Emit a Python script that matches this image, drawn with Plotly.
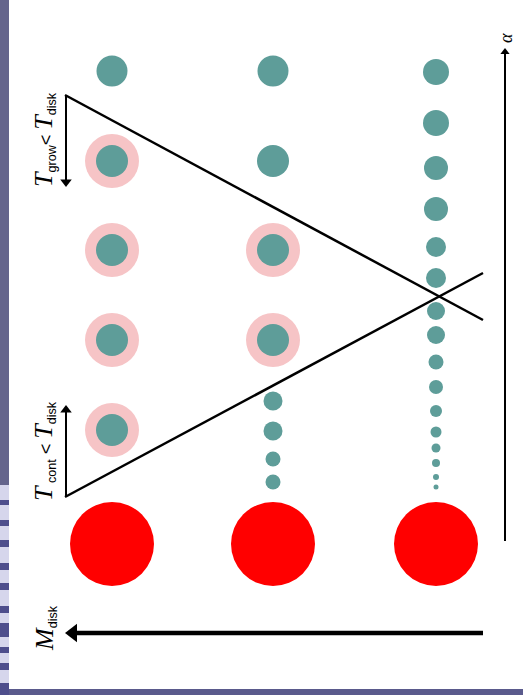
import plotly.graph_objects as go

# ---- data (schematic positions in picture units) ----
# Column positions (increasing disk mass to the left) and the red central circles
col_x = [112, 273, 436]
red_y = 544
red_d = 84

# Column 1 dots (alpha rows)
c1_y = [71, 161, 250, 340, 430]
c1_d = [31, 32, 32, 32, 32]
c1_halo = [False, True, True, True, True]

# Column 2 dots
c2_y = [71, 161, 250, 340, 401, 431, 459, 482]
c2_d = [31, 32, 32, 32, 19, 19, 15, 15]
c2_halo = [False, False, True, True, False, False, False, False]

# Column 3 dots
c3_y = [72, 123, 168, 209, 247, 278, 311, 335, 362, 387, 411, 432, 448, 463, 477, 487]
c3_d = [26, 26, 24, 24, 20, 20, 18, 18, 15, 14, 12, 11, 9, 8, 6, 5]
c3_halo = [False] * len(c3_y)

halo_d = 54

# boundary lines (T_grow = T_disk and T_cont = T_disk)
grow_line_x = [65, 483]
grow_line_y = [95, 320]
cont_line_x = [65, 483]
cont_line_y = [497, 273]

# left decorative strip dark bands (y ranges)
band_y0 = [500, 520, 540, 563, 583, 606, 623, 647, 663, 683]
band_y1 = [505, 526, 547, 570, 590, 613, 637, 653, 670, 695]

TEAL = "#5e9d99"
PINK = "#f6c4c6"
RED = "#ff0000"

fig = go.Figure()

# background panels
fig.add_shape(type="rect", x0=0, x1=523, y0=0, y1=695, fillcolor="#5a5a8c",
              line=dict(width=0), layer="below")
fig.add_shape(type="rect", x0=0, x1=9, y0=0, y1=485, fillcolor="#65658c",
              line=dict(width=0), layer="below")
fig.add_shape(type="rect", x0=0, x1=9, y0=485, y1=695, fillcolor="#d6d6ec",
              line=dict(width=0), layer="below")
for a, b in zip(band_y0, band_y1):
    fig.add_shape(type="rect", x0=0, x1=9, y0=a, y1=b, fillcolor="#4e4e8c",
                  line=dict(width=0), layer="below")
fig.add_shape(type="rect", x0=9, x1=523, y0=0, y1=689, fillcolor="white",
              line=dict(width=0), layer="below")

# triangle lines
fig.add_trace(go.Scatter(x=grow_line_x, y=grow_line_y, mode="lines",
                         line=dict(color="black", width=2.5), hoverinfo="skip"))
fig.add_trace(go.Scatter(x=cont_line_x, y=cont_line_y, mode="lines",
                         line=dict(color="black", width=2.5), hoverinfo="skip"))

cols = [(c1_y, c1_d, c1_halo), (c2_y, c2_d, c2_halo), (c3_y, c3_d, c3_halo)]
for cx, (ys, ds, hs) in zip(col_x, cols):
    hy = [y for y, h in zip(ys, hs) if h]
    if hy:
        fig.add_trace(go.Scatter(x=[cx] * len(hy), y=hy, mode="markers",
                                 marker=dict(size=halo_d, color=PINK, opacity=1,
                                             line=dict(width=0)),
                                 hoverinfo="skip"))
    fig.add_trace(go.Scatter(x=[cx] * len(ys), y=ys, mode="markers",
                             marker=dict(size=ds, color=TEAL, opacity=1, line=dict(width=0)),
                             hoverinfo="skip"))

fig.add_trace(go.Scatter(x=col_x, y=[red_y] * 3, mode="markers",
                         marker=dict(size=red_d, color=RED, opacity=1, line=dict(width=0)),
                         hoverinfo="skip"))


def arrow(xs, ys, w, hx, hy, sym, hs):
    fig.add_trace(go.Scatter(x=xs, y=ys, mode="lines", line=dict(color="black", width=w),
                             hoverinfo="skip"))
    fig.add_trace(go.Scatter(x=[hx], y=[hy], mode="markers",
                             marker=dict(symbol=sym, size=hs, color="black", opacity=1,
                                         line=dict(width=0)),
                             hoverinfo="skip"))


arrow([66, 66], [95, 180], 2, 66, 182, "triangle-down", 10)     # T_grow arrow
arrow([66, 66], [497, 412], 2, 66, 410, "triangle-up", 10)      # T_cont arrow
arrow([76, 483], [633, 633], 4.5, 73, 633, "triangle-left", 16)  # M_disk arrow
arrow([505, 505], [541, 54], 2, 505, 52, "triangle-up", 8)       # alpha arrow

SERIF = "Liberation Serif"
SANS = "Liberation Sans"


def lab(x, y, txt):
    fig.add_annotation(x=x, y=y, xref="x", yref="y", text=txt, showarrow=False,
                       textangle=-90, font=dict(family=SANS, size=18, color="black"))


T = '<span style="font-family:Liberation Serif;font-size:26px"><i>T</i></span>'
M = '<span style="font-family:Liberation Serif;font-size:26px"><i>M</i></span>'
lab(44, 140, T + '<sub>grow</sub>< ' + T + '<sub>disk</sub>')
lab(44, 451, T + '<sub> cont</sub> < ' + T + '<sub>disk</sub>')
lab(45, 628, M + '<sub>disk</sub>')
fig.add_annotation(x=506, y=38, xref="x", yref="y", text="<i>α</i>", showarrow=False,
                   textangle=-90, font=dict(family=SERIF, size=18, color="black"))

fig.update_layout(
    width=523, height=695,
    margin=dict(l=0, r=0, t=0, b=0),
    paper_bgcolor="#5a5a8c",
    plot_bgcolor="#5a5a8c",
    showlegend=False,
    xaxis=dict(range=[0, 523], visible=False, fixedrange=True),
    yaxis=dict(range=[695, 0], visible=False, fixedrange=True),
)

fig.write_html("out.html", config={"displayModeBar": False},
               post_script="document.body.style.margin='0';")
